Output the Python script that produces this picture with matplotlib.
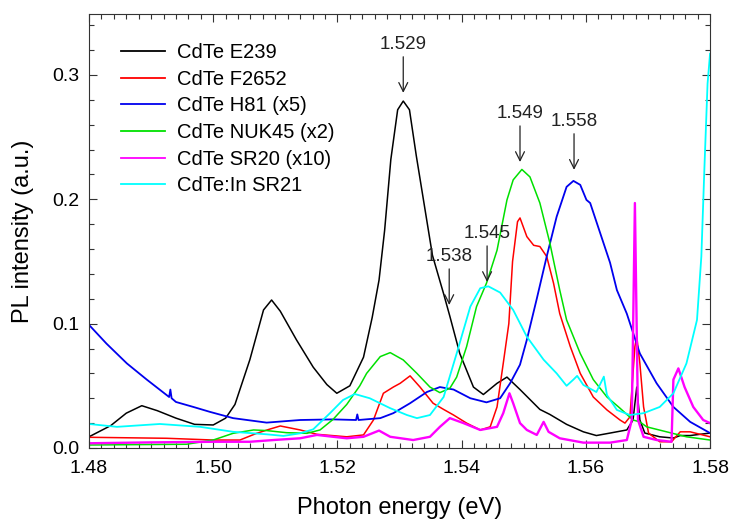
import numpy as np
import matplotlib
matplotlib.use("Agg")
import matplotlib.pyplot as plt
from matplotlib.ticker import MultipleLocator

plt.rcParams["font.family"] = ["Liberation Sans", "DejaVu Sans"]

# photon energy (eV) / PL intensity (a.u.)
black_e = [1.4800, 1.4835, 1.4860, 1.4885, 1.4910, 1.4940, 1.4970, 1.5000, 1.5020, 1.5035,
           1.5059, 1.5081, 1.5094, 1.5108, 1.5134, 1.5161, 1.5183, 1.5199, 1.5220, 1.5242,
           1.5256, 1.5267, 1.5276, 1.5286, 1.5297, 1.5306, 1.5316, 1.5327, 1.5340, 1.5353,
           1.5371, 1.5381, 1.5397, 1.5419, 1.5435, 1.5457, 1.5473, 1.5494, 1.5526, 1.5542,
           1.5569, 1.5596, 1.5617, 1.5639, 1.5666, 1.5676, 1.5682, 1.5687, 1.5695, 1.5719,
           1.5741, 1.5752, 1.5768, 1.5800]
black_i = [0.009, 0.018, 0.028, 0.034, 0.030, 0.024, 0.019, 0.0185, 0.024, 0.035,
           0.071, 0.111, 0.119, 0.110, 0.087, 0.065, 0.051, 0.044, 0.050, 0.073,
           0.105, 0.135, 0.175, 0.232, 0.272, 0.279, 0.272, 0.235, 0.195, 0.155,
           0.124, 0.106, 0.076, 0.049, 0.043, 0.052, 0.057, 0.047, 0.031, 0.027,
           0.019, 0.013, 0.010, 0.012, 0.0145, 0.0225, 0.049, 0.0225, 0.012, 0.009,
           0.008, 0.010, 0.010, 0.012]

red_e = [1.4800, 1.4925, 1.5000, 1.5043, 1.5070, 1.5090, 1.5108, 1.5140, 1.5167, 1.5215,
         1.5242, 1.5258, 1.5274, 1.5290, 1.5301, 1.5317, 1.5333, 1.5354, 1.5371, 1.5387,
         1.5408, 1.5430, 1.5446, 1.5457, 1.5467, 1.5476, 1.5482, 1.5490, 1.5494, 1.5505,
         1.5516, 1.5526, 1.5537, 1.5548, 1.5558, 1.5575, 1.5591, 1.5612, 1.5634, 1.5655,
         1.5663, 1.5671, 1.5679, 1.5682, 1.5687, 1.5693, 1.5701, 1.5719, 1.5738, 1.5752,
         1.5768, 1.5800]
red_i = [0.0086, 0.0078, 0.0064, 0.0064, 0.0118, 0.015, 0.0177, 0.0145, 0.0110, 0.009,
         0.0105, 0.0225, 0.044, 0.049, 0.052, 0.058, 0.049, 0.036, 0.031, 0.0265,
         0.020, 0.0145, 0.017, 0.033, 0.068, 0.100, 0.150, 0.182, 0.185, 0.170,
         0.163, 0.162, 0.154, 0.1325, 0.108, 0.0815, 0.060, 0.041, 0.0306, 0.0225,
         0.020, 0.025, 0.0815, 0.0895, 0.068, 0.033, 0.012, 0.005, 0.005, 0.013,
         0.013, 0.009]

blue_e = [1.4800, 1.4828, 1.4861, 1.4893, 1.4929, 1.4931, 1.4933, 1.4940, 1.4968, 1.4995,
          1.5032, 1.5086, 1.5140, 1.5193, 1.5230, 1.5232, 1.5234, 1.5269, 1.5290, 1.5317,
          1.5344, 1.5365, 1.5387, 1.5414, 1.5440, 1.5462, 1.5478, 1.5494, 1.5505, 1.5521,
          1.5537, 1.5553, 1.5569, 1.5580, 1.5591, 1.5601, 1.5607, 1.5623, 1.5639, 1.5650,
          1.5666, 1.5687, 1.5714, 1.5741, 1.5768, 1.5800]
blue_i = [0.099, 0.084, 0.068, 0.055, 0.041, 0.047, 0.040, 0.037, 0.033, 0.029,
          0.024, 0.0204, 0.0225, 0.023, 0.0225, 0.027, 0.0225, 0.024, 0.028, 0.036,
          0.045, 0.049, 0.047, 0.040, 0.0367, 0.040, 0.052, 0.067, 0.087, 0.120,
          0.154, 0.186, 0.210, 0.2148, 0.2116, 0.1995, 0.197, 0.173, 0.149, 0.127,
          0.108, 0.076, 0.052, 0.033, 0.021, 0.012]

green_e = [1.4800, 1.4957, 1.5000, 1.5032, 1.5065, 1.5086, 1.5118, 1.5151, 1.5172, 1.5193,
           1.5215, 1.5236, 1.5247, 1.5269, 1.5285, 1.5306, 1.5328, 1.5349, 1.5365, 1.5381,
           1.5392, 1.5408, 1.5424, 1.5440, 1.5457, 1.5473, 1.5483, 1.5497, 1.5510, 1.5526,
           1.5542, 1.5558, 1.5569, 1.5591, 1.5612, 1.5634, 1.5655, 1.5676, 1.5687, 1.5698,
           1.5730, 1.5762, 1.5800]
green_i = [0.0024, 0.003, 0.0064, 0.0118, 0.0145, 0.014, 0.0123, 0.0118, 0.0145, 0.023,
           0.035, 0.050, 0.060, 0.0735, 0.0767, 0.0708, 0.060, 0.049, 0.0445, 0.048,
           0.057, 0.0815, 0.1137, 0.1325, 0.159, 0.1995, 0.2156, 0.224, 0.218, 0.197,
           0.165, 0.127, 0.103, 0.076, 0.055, 0.041, 0.032, 0.0225, 0.021, 0.017,
           0.013, 0.009, 0.0064]

magenta_e = [1.4800, 1.4900, 1.5000, 1.5059, 1.5100, 1.5140, 1.5167, 1.5193, 1.5215, 1.5242,
             1.5267, 1.5285, 1.5322, 1.5349, 1.5365, 1.5381, 1.5403, 1.5430, 1.5457, 1.5467,
             1.5477, 1.5483, 1.5494, 1.5505, 1.5521, 1.5532, 1.5540, 1.5558, 1.5596, 1.5639,
             1.5666, 1.5674, 1.5679, 1.5684, 1.5693, 1.5714, 1.5738, 1.5741, 1.5749, 1.5759,
             1.5773, 1.5789, 1.5800]
magenta_i = [0.0038, 0.0045, 0.005, 0.005, 0.0065, 0.0078, 0.0105, 0.009, 0.0078, 0.009,
             0.014, 0.009, 0.0064, 0.009, 0.017, 0.024, 0.020, 0.0145, 0.017, 0.028,
             0.044, 0.036, 0.020, 0.0145, 0.0105, 0.021, 0.013, 0.0078, 0.0043, 0.0043,
             0.0064, 0.0225, 0.197, 0.0225, 0.009, 0.0064, 0.005, 0.055, 0.064, 0.049,
             0.033, 0.0225, 0.020]

cyan_e = [1.4800, 1.4845, 1.4914, 1.4979, 1.5032, 1.5086, 1.5113, 1.5140, 1.5161, 1.5188,
          1.5209, 1.5228, 1.5252, 1.5285, 1.5312, 1.5328, 1.5349, 1.5371, 1.5392, 1.5414,
          1.5430, 1.5443, 1.5462, 1.5483, 1.5505, 1.5532, 1.5553, 1.5569, 1.5580, 1.5586,
          1.5596, 1.5617, 1.5629, 1.5634, 1.5650, 1.5671, 1.5693, 1.5719, 1.5741, 1.5762,
          1.5779, 1.5786, 1.5791, 1.5796, 1.5800]
cyan_i = [0.0193, 0.017, 0.0193, 0.017, 0.013, 0.011, 0.0097, 0.0118, 0.015, 0.028,
          0.0386, 0.0434, 0.040, 0.032, 0.0265, 0.024, 0.0265, 0.041, 0.076, 0.1137,
          0.1285, 0.130, 0.125, 0.111, 0.0895, 0.071, 0.060, 0.050, 0.055, 0.058,
          0.0507, 0.045, 0.0574, 0.0426, 0.0306, 0.0265, 0.028, 0.033, 0.044, 0.068,
          0.103, 0.154, 0.226, 0.293, 0.317]

labels = ["CdTe E239", "CdTe F2652", "CdTe H81 (x5)", "CdTe NUK45 (x2)",
          "CdTe SR20 (x10)", "CdTe:In SR21"]

# peak markers: label, arrow tip (E, I)
peak_text = ["1.529", "1.538", "1.545", "1.549", "1.558"]
peak_e = [1.5306, 1.5380, 1.5441, 1.5494, 1.5581]
peak_tip = [0.2856, 0.115, 0.1335, 0.230, 0.2237]

fig = plt.figure(figsize=(7.32, 5.25), dpi=100)
ax = fig.add_axes([0.1216, 0.1467, 0.8484, 0.8266])

series = [
    (black_e, black_i, "black", 1.1),
    (red_e, red_i, "#ff0000", 1.1),
    (blue_e, blue_i, "#0000ee", 1.3),
    (green_e, green_i, "#00e000", 1.1),
    (magenta_e, magenta_i, "#ff00ff", 1.7),
    (cyan_e, cyan_i, "#00ffff", 1.3),
]
for (e, i, c, lw), lab in zip(series, labels):
    ax.plot(e, i, color=c, lw=lw, label=lab)

for txt, e, tip in zip(peak_text, peak_e, peak_tip):
    ax.annotate("", xy=(e, tip), xytext=(e, tip + 0.029),
                arrowprops=dict(arrowstyle="->", color="#222222", lw=0.9,
                                mutation_scale=16, shrinkA=0, shrinkB=0))
    ax.text(e, tip + 0.032, txt, ha="center", va="bottom", fontsize=13.5,
            color="#222222")

ax.set_xlim(1.48, 1.58)
ax.set_ylim(0, 0.349)
ax.xaxis.set_major_locator(MultipleLocator(0.02))
ax.xaxis.set_minor_locator(MultipleLocator(0.002))
ax.yaxis.set_major_locator(MultipleLocator(0.1))
ax.yaxis.set_minor_locator(MultipleLocator(0.02))
ax.xaxis.set_major_formatter(plt.FormatStrFormatter("%.2f"))
ax.yaxis.set_major_formatter(plt.FormatStrFormatter("%.1f"))
ax.tick_params(which="both", direction="in", top=True, right=True,
               labelsize=14, color="#333333")
ax.tick_params(axis="x", pad=9)
ax.tick_params(axis="y", pad=7)
ax.tick_params(which="major", length=6, width=0.8)
ax.tick_params(which="minor", length=3.5, width=0.8)
for s in ax.spines.values():
    s.set_linewidth(0.8)
    s.set_color("#333333")

ax.set_xlabel("Photon energy (eV)", fontsize=17, labelpad=14)
ax.set_ylabel("PL intensity (a.u.)", fontsize=17, labelpad=13)

leg = ax.legend(loc="upper left", bbox_to_anchor=(0.022, 0.975), frameon=False,
                fontsize=14.5, handlelength=2.2, handletextpad=0.6,
                labelspacing=0.38)
for h in leg.get_lines():
    h.set_linewidth(1.3)

fig.savefig("out.png", dpi=100)
